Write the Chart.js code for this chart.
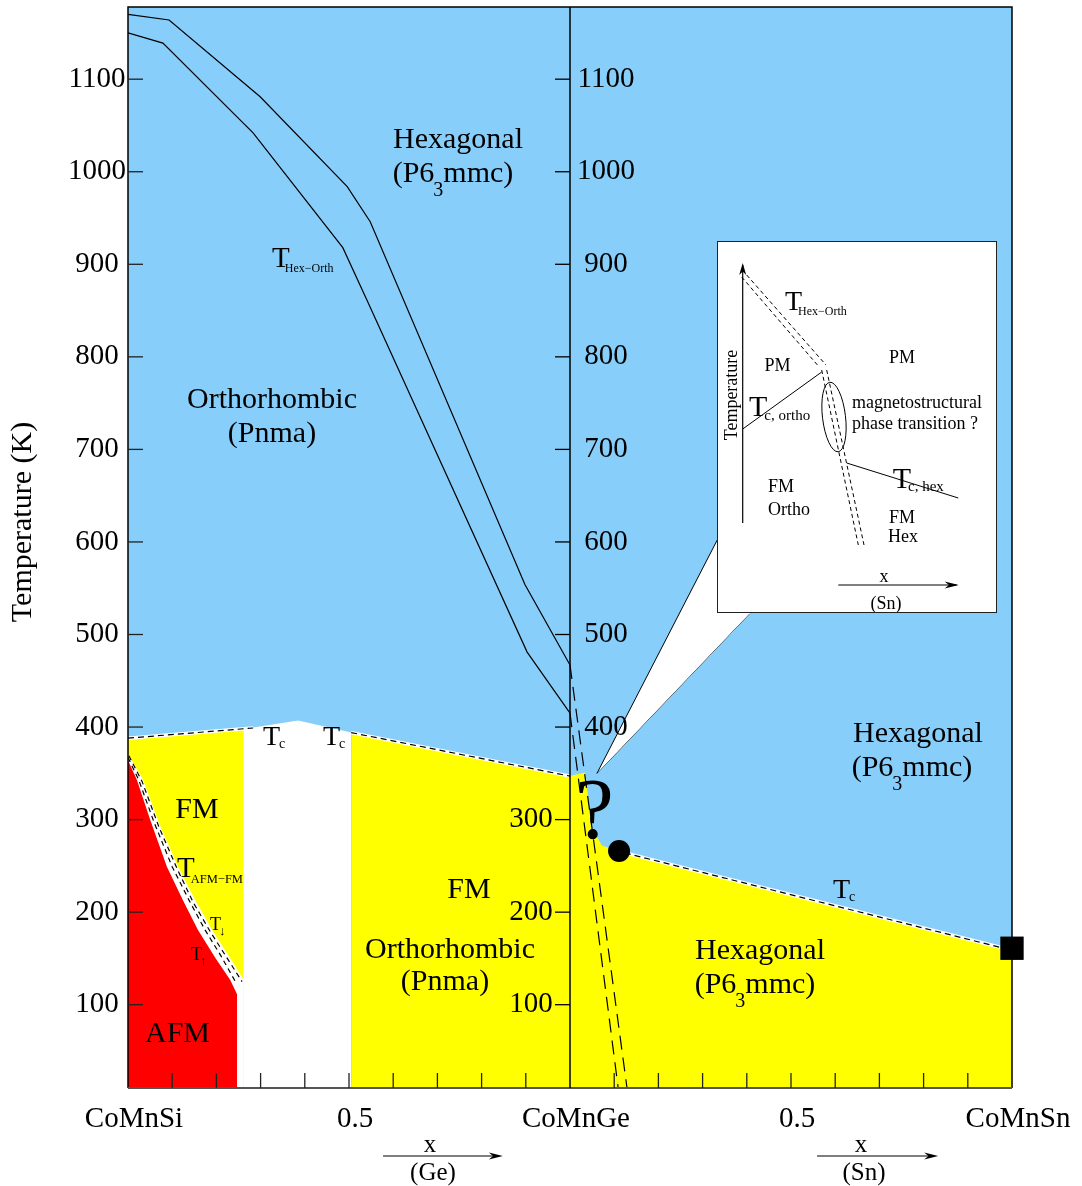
<!DOCTYPE html>
<html>
<head>
<meta charset="utf-8">
<title>CoMnSi – CoMnGe – CoMnSn phase diagram</title>
<script src="https://cdn.jsdelivr.net/npm/chart.js@4.4.1/dist/chart.umd.min.js"></script>
<style>
  html, body { margin: 0; padding: 0; background: #fff; }
  #wrap { position: relative; width: 1082px; height: 1186px; }
  #main { position: absolute; left: 0; top: 0; }
  #insetBox { position: absolute; left: 717px; top: 241px; width: 280px; height: 372px;
    box-sizing: border-box; border: 1px solid #222; background: #fff; }
  #inset { display: block; }
</style>
</head>
<body>
<div id="wrap">
  <canvas id="main" width="1082" height="1186"></canvas>
  <div id="insetBox"><canvas id="inset" width="278" height="370"></canvas></div>
</div>
<script>
// ---------- axes ----------
// composition runs 0 (CoMnSi) -> 1 (CoMnGe) -> 2 (CoMnSn)
const compositionTicks = [0, 0.5, 1, 1.5, 2];
const compositionLabels = ['CoMnSi', '0.5', 'CoMnGe', '0.5', 'CoMnSn'];
const compositionMinorTicks = [0.1, 0.2, 0.3, 0.4, 0.5, 0.6, 0.7, 0.8, 0.9,
                               1.1, 1.2, 1.3, 1.4, 1.5, 1.6, 1.7, 1.8, 1.9];
const temperatureTicks = [100, 200, 300, 400, 500, 600, 700, 800, 900, 1000, 1100];
const midAxisTicksRight = [400, 500, 600, 700, 800, 900, 1000, 1100];
const midAxisTicksLeft = [100, 200, 300];

// ---------- structural transition T_Hex-Orth (K) ----------
const hexOrthUpperX = [0, 0.093, 0.299, 0.496, 0.548, 0.898, 1.0];
const hexOrthUpperT = [1170, 1164, 1081, 984, 946, 554, 467];
const hexOrthLowerX = [0, 0.079, 0.283, 0.486, 0.541, 0.903, 1.0];
const hexOrthLowerT = [1150, 1139, 1042, 918, 861, 481, 415];
const hexOrthUpperExtX = [1.0, 1.129];
const hexOrthUpperExtT = [467, 10];
const hexOrthLowerExtX = [1.0, 1.109];
const hexOrthLowerExtT = [415, 10];

// ---------- Curie temperatures T_c (K) ----------
const tcSiX = [0, 0.283];
const tcSiT = [388, 399];
const tcGeX = [0.505, 1.0];
const tcGeT = [394, 347];
const tcSnX = [1.124, 1.973];
const tcSnT = [264, 162];

// ---------- phase regions (upper boundaries, K) ----------
const gapTopX = [0, 0.262, 0.385, 0.505];
const gapTopT = [388, 398, 407, 394];
const fmSiTopX = [0, 0.262];
const fmSiTopT = [388, 398];
const fmGeTopX = [0.505, 1.0];
const fmGeTopT = [394, 347];
const fmHexTopX = [1.0, 1.034, 1.050, 1.072, 1.111, 2.0];
const fmHexTopT = [347, 351, 291, 272, 266, 159];

// AFM-FM transition: hysteresis band between heating and cooling
const fmEdgeX = [0, 0.034, 0.072, 0.113, 0.152, 0.190, 0.226, 0.262];
const fmEdgeT = [371, 343, 294, 249, 213, 181, 154, 127];
const afmEdgeX = [0, 0.020, 0.050, 0.088, 0.124, 0.158, 0.197, 0.231, 0.247];
const afmEdgeT = [364, 343, 300, 249, 213, 181, 151, 127, 111];
const coolingX = [0.002, 0.032, 0.070, 0.111, 0.147, 0.186, 0.222, 0.258];
const coolingT = [369, 341, 292, 247, 211, 179, 152, 125];
const heatingX = [0, 0.025, 0.059, 0.100, 0.138, 0.174, 0.210, 0.244];
const heatingT = [367, 342, 297, 249, 213, 181, 153, 124];

// callout towards the magnetostructural sketch
const calloutUpperX = [1.061, 1.333, 1.42];
const calloutUpperT = [350, 602, 602];
const calloutLowerX = [1.061, 1.407];
const calloutLowerT = [350, 523];

// measured points
const tcCoMnGe = { x: 1.111, y: 266 };
const tcCoMnSn = { x: 2.0, y: 161 };

// ---------- sketch of the magnetostructural crossing (schematic units) ----------
const sketchTempAxisU = [25.7, 25.7];
const sketchTempAxisV = [90, 348];
const sketchHexOrthAU = [24.7, 101.3];
const sketchHexOrthAV = [336, 247];
const sketchHexOrthBU = [29.7, 109];
const sketchHexOrthBV = [338, 248];
const sketchHexOrthCU = [104.7, 141.3];
const sketchHexOrthCV = [243, 68];
const sketchHexOrthDU = [109.7, 147];
const sketchHexOrthDV = [243, 68];
const sketchTcOrthoU = [25.7, 104.7];
const sketchTcOrthoV = [184, 241];
const sketchTcHexU = [129.7, 241.3];
const sketchTcHexV = [150, 115];
const sketchXAxisU = [121.3, 239.7];
const sketchXAxisV = [28, 28];
const sketchCrossing = { x: 117, y: 196 };

// ---------- styling ----------
const SERIF = "'Liberation Serif', 'Times New Roman', serif";
const BLUE = '#87cefa', YELLOW = '#ffff00', RED = '#ff0000', WHITE = '#ffffff', INK = '#000000';

const zip = (xs, ys) => xs.map((x, i) => ({ x, y: ys[i] }));

function region(label, xs, ts, color, order) {
  return { label, data: zip(xs, ts), backgroundColor: color, borderWidth: 0,
           fill: 'start', pointRadius: 0, order };
}
function curve(label, xs, ts, color, width, dash, order) {
  return { label, data: zip(xs, ts), borderColor: color, borderWidth: width,
           borderDash: dash, fill: false, pointRadius: 0, order };
}

// text labels anchored in data coordinates (baseline)
const regionLabels = [
  { x: 0.7466, t: 1025.7, parts: [['Hexagonal']] },
  { x: 0.7353, t: 988.9, parts: [['(P6'], ['3', 'sub'], ['mmc)']] },
  { x: 0.3258, t: 744.7, parts: [['Orthorhombic']] },
  { x: 0.3258, t: 708.0, parts: [['(Pnma)']] },
  { x: 1.7873, t: 383.9, parts: [['Hexagonal']] },
  { x: 1.7738, t: 347.1, parts: [['(P6'], ['3', 'sub'], ['mmc)']] },
  { x: 0.1561, t: 301.7, parts: [['FM']] },
  { x: 0.1120, t: 59.7, parts: [['AFM']] },
  { x: 0.7715, t: 215.3, parts: [['FM']] },
  { x: 0.7285, t: 150.5, parts: [['Orthorhombic']] },
  { x: 0.7172, t: 115.9, parts: [['(Pnma)']] },
  { x: 1.4299, t: 149.4, parts: [['Hexagonal']] },
  { x: 1.4186, t: 112.6, parts: [['(P6'], ['3', 'sub'], ['mmc)']] }
];
const symbolLabels = [
  { x: 0.3258, t: 897.0, sub: 'Hex\u2212Orth', size: 29, subSize: 12, drop: 5, kern: -5 },
  { x: 0.1109, t: 238.0, sub: 'AFM\u2212FM', size: 29, subSize: 12.5, drop: 6, kern: -4 },
  { x: 0.3054, t: 380.6, sub: 'c', size: 28, subSize: 14, drop: 3, kern: -1 },
  { x: 0.4412, t: 380.6, sub: 'c', size: 28, subSize: 14, drop: 3, kern: -1 },
  { x: 1.5950, t: 215.3, sub: 'c', size: 28, subSize: 14, drop: 3, kern: -1 },
  { x: 0.1855, t: 180.7, sub: '\u2193', size: 18, subSize: 13, drop: 5, kern: -2 },
  { x: 0.1425, t: 148.3, sub: '\u2191', size: 18, subSize: 13, drop: 5, kern: -2 }
];
const questionMark = { x: 1.0554, t: 280.1, text: '?' };
const axisNotes = [
  { at: 0.690, from: 0.577, to: 0.848, element: '(Ge)' },
  { at: 1.665, from: 1.559, to: 1.833, element: '(Sn)' }
];

function drawParts(ctx, x, y, parts, align) {
  const widths = parts.map(p => { ctx.font = p.size + 'px ' + SERIF; return ctx.measureText(p.t).width + (p.dx || 0); });
  let cx = align === 'center' ? x - widths.reduce((a, b) => a + b, 0) / 2 : x;
  parts.forEach((p, i) => {
    ctx.font = p.size + 'px ' + SERIF;
    ctx.fillText(p.t, cx + (p.dx || 0), y + (p.dy || 0));
    cx += widths[i];
  });
}

function arrowBarbs(ctx, x, y, dx, dy, len, half) {
  const n = Math.hypot(dx, dy), ux = dx / n, uy = dy / n;
  ctx.beginPath();
  ctx.moveTo(x, y);
  ctx.lineTo(x - ux * len - uy * half, y - uy * len + ux * half);
  ctx.lineTo(x - ux * len * 0.7, y - uy * len * 0.7);
  ctx.lineTo(x - ux * len + uy * half, y - uy * len - ux * half);
  ctx.closePath();
  ctx.fill();
}

const decor = {
  id: 'phaseDiagramDecor',
  beforeDraw(chart) {
    const { ctx, chartArea: a } = chart;
    ctx.save();
    ctx.fillStyle = BLUE;
    ctx.fillRect(a.left, a.top, a.right - a.left, a.bottom - a.top);
    ctx.restore();
  },
  afterDatasetsDraw(chart) {
    const { ctx, chartArea: a } = chart;
    const X = v => chart.scales.x.getPixelForValue(v);
    const Y = v => chart.scales.y.getPixelForValue(v);
    ctx.save();
    ctx.fillStyle = INK;
    ctx.strokeStyle = INK;

    // frame
    ctx.lineWidth = 1.5;
    ctx.beginPath();
    ctx.moveTo(a.left, a.bottom); ctx.lineTo(a.left, a.top);
    ctx.lineTo(a.right, a.top); ctx.lineTo(a.right, a.bottom);
    ctx.stroke();
    ctx.strokeStyle = '#555';
    ctx.lineWidth = 2;
    ctx.beginPath(); ctx.moveTo(a.left, a.bottom); ctx.lineTo(a.right, a.bottom); ctx.stroke();

    // inward ticks
    ctx.strokeStyle = '#222';
    ctx.lineWidth = 1.3;
    temperatureTicks.forEach(t => {
      ctx.beginPath(); ctx.moveTo(a.left, Y(t)); ctx.lineTo(a.left + 15, Y(t)); ctx.stroke();
    });
    compositionMinorTicks.forEach(v => {
      ctx.beginPath(); ctx.moveTo(X(v), a.bottom); ctx.lineTo(X(v), a.bottom - 15); ctx.stroke();
    });

    // CoMnGe axis in the middle
    const xm = X(1);
    ctx.strokeStyle = INK;
    ctx.lineWidth = 1.5;
    ctx.beginPath(); ctx.moveTo(xm, a.top); ctx.lineTo(xm, a.bottom); ctx.stroke();
    ctx.lineWidth = 1.3;
    temperatureTicks.forEach(t => {
      ctx.beginPath(); ctx.moveTo(xm - 15, Y(t)); ctx.lineTo(xm, Y(t)); ctx.stroke();
    });
    ctx.font = '29px ' + SERIF;
    ctx.textAlign = 'center';
    ctx.textBaseline = 'middle';
    midAxisTicksRight.forEach(t => ctx.fillText(String(t), xm + 36, Y(t)));
    midAxisTicksLeft.forEach(t => ctx.fillText(String(t), xm - 39, Y(t)));

    // region names
    ctx.textAlign = 'left';
    ctx.textBaseline = 'alphabetic';
    regionLabels.forEach(l => {
      const parts = l.parts.map(([t, kind]) => kind === 'sub'
        ? { t, size: 20, dy: 14, dx: -1 } : { t, size: 30 });
      drawParts(ctx, X(l.x), Y(l.t), parts, 'center');
    });
    symbolLabels.forEach(l => {
      drawParts(ctx, X(l.x), Y(l.t), [
        { t: 'T', size: l.size },
        { t: l.sub, size: l.subSize, dy: l.drop, dx: l.kern }
      ], 'left');
    });
    ctx.font = '86px ' + SERIF;
    ctx.textAlign = 'center';
    ctx.fillText(questionMark.text, X(questionMark.x), Y(questionMark.t));

    // axis title
    ctx.save();
    ctx.translate(23, 522);
    ctx.rotate(-Math.PI / 2);
    ctx.font = '30px ' + SERIF;
    ctx.textAlign = 'center';
    ctx.textBaseline = 'middle';
    ctx.fillText('Temperature (K)', 0, 0);
    ctx.restore();

    // composition direction notes under the axis
    ctx.font = '25px ' + SERIF;
    ctx.textAlign = 'center';
    ctx.textBaseline = 'middle';
    ctx.lineWidth = 1.2;
    ctx.strokeStyle = INK;
    axisNotes.forEach(n => {
      ctx.fillText('x', X(n.at) - 3, a.bottom + 57);
      ctx.fillText(n.element, X(n.at), a.bottom + 85);
      const y = a.bottom + 68;
      ctx.beginPath(); ctx.moveTo(X(n.from), y); ctx.lineTo(X(n.to) - 4, y); ctx.stroke();
      arrowBarbs(ctx, X(n.to), y, 1, 0, 14, 3.5);
    });
    ctx.restore();
  }
};

const datasets = [
  { label: 'callout', data: zip(calloutUpperX, calloutUpperT), backgroundColor: WHITE,
    borderColor: INK, borderWidth: 1, fill: '+1', pointRadius: 0, order: 2 },
  { label: 'callout edge', data: zip(calloutLowerX, calloutLowerT), borderColor: INK,
    borderWidth: 1, fill: false, pointRadius: 0, order: 3 },
  { label: 'CoMnGe-rich point', data: [tcCoMnGe], showLine: false, pointRadius: 11,
    pointBackgroundColor: INK, pointBorderWidth: 0, order: 0 },
  { label: 'CoMnSn', data: [tcCoMnSn], showLine: false, pointStyle: 'rect', pointRadius: 16.5,
    pointBackgroundColor: INK, pointBorderWidth: 0, clip: false, order: 0 },
  region('white column', gapTopX, gapTopT, WHITE, 100),
  region('FM orthorhombic (Ge side)', fmGeTopX, fmGeTopT, YELLOW, 99),
  region('FM hexagonal', fmHexTopX, fmHexTopT, YELLOW, 98),
  region('FM orthorhombic (Si side)', fmSiTopX, fmSiTopT, YELLOW, 97),
  region('AFM-FM hysteresis', fmEdgeX, fmEdgeT, WHITE, 96),
  region('AFM', afmEdgeX, afmEdgeT, RED, 95),
  curve('T cooling', coolingX, coolingT, INK, 1.2, [5, 4], 80),
  curve('T heating', heatingX, heatingT, INK, 1.2, [5, 4], 80),
  curve('Tc Si halo', tcSiX, tcSiT, WHITE, 3.5, [], 75),
  curve('Tc Si', tcSiX, tcSiT, INK, 1.2, [6, 4], 74),
  curve('Tc Ge halo', tcGeX, tcGeT, WHITE, 3.5, [], 75),
  curve('Tc Ge', tcGeX, tcGeT, INK, 1.2, [6, 4], 74),
  curve('Tc Sn halo', tcSnX, tcSnT, WHITE, 3.5, [], 75),
  curve('Tc Sn', tcSnX, tcSnT, INK, 1.2, [6, 4], 74),
  curve('T Hex-Orth upper', hexOrthUpperX, hexOrthUpperT, INK, 1.2, [], 60),
  curve('T Hex-Orth lower', hexOrthLowerX, hexOrthLowerT, INK, 1.2, [], 60),
  curve('T Hex-Orth upper (Sn)', hexOrthUpperExtX, hexOrthUpperExtT, INK, 1.2, [14, 8], 60),
  curve('T Hex-Orth lower (Sn)', hexOrthLowerExtX, hexOrthLowerExtT, INK, 1.2, [14, 8], 60)
];

new Chart(document.getElementById('main'), {
  type: 'line',
  data: { datasets },
  options: {
    responsive: false,
    animation: false,
    events: [],
    layout: { autoPadding: false, padding: { top: 7, right: 70, left: 0, bottom: 0 } },
    elements: { line: { tension: 0 } },
    plugins: { legend: { display: false }, tooltip: { enabled: false } },
    scales: {
      x: {
        type: 'linear', min: 0, max: 2,
        grid: { display: false, drawTicks: false }, border: { display: false },
        afterBuildTicks: s => { s.ticks = compositionTicks.map(v => ({ value: v })); },
        afterFit: s => { s.height = 98; s.paddingLeft = 0; s.paddingRight = 0; },
        ticks: {
          autoSkip: false, maxRotation: 0, padding: 14, labelOffset: 6, color: INK,
          font: { family: SERIF, size: 29 },
          callback: (v, i) => compositionLabels[i]
        }
      },
      y: {
        type: 'linear', min: 10, max: 1178,
        grid: { display: false, drawTicks: false }, border: { display: false },
        afterBuildTicks: s => { s.ticks = temperatureTicks.map(v => ({ value: v })); },
        afterFit: s => { s.width = 128; s.paddingTop = 0; s.paddingBottom = 0; },
        ticks: {
          crossAlign: 'center', padding: 2, color: INK,
          font: { family: SERIF, size: 29 },
          callback: v => String(v)
        }
      }
    }
  },
  plugins: [decor]
});

// ---------- sketch ----------
function crossingMarker() {
  const c = document.createElement('canvas');
  c.width = 34; c.height = 80;
  const g = c.getContext('2d');
  g.strokeStyle = INK; g.lineWidth = 1;
  g.beginPath(); g.ellipse(17, 40, 11.5, 35, -0.12, 0, Math.PI * 2); g.stroke();
  return c;
}

const sketchTexts = [
  { u: 60.5, v: 242, text: 'PM', align: 'center' },
  { u: 185, v: 250, text: 'PM', align: 'center' },
  { u: 135, v: 205, text: 'magnetostructural', align: 'left' },
  { u: 135, v: 184, text: 'phase transition ?', align: 'left' },
  { u: 51, v: 121, text: 'FM', align: 'left' },
  { u: 51, v: 98, text: 'Ortho', align: 'left' },
  { u: 172, v: 90, text: 'FM', align: 'left' },
  { u: 171, v: 71, text: 'Hex', align: 'left' },
  { u: 167, v: 31, text: 'x', align: 'center' },
  { u: 169, v: 4, text: '(Sn)', align: 'center' }
];
const sketchSymbols = [
  { u: 68, v: 303, sub: 'Hex\u2212Orth', size: 28, subSize: 12, drop: 5, kern: -4 },
  { u: 32, v: 197, sub: 'c, ortho', size: 30, subSize: 15, drop: 4, kern: -3 },
  { u: 175.7, v: 125, sub: 'c, hex', size: 30, subSize: 15, drop: 3, kern: -3 }
];

const sketchDecor = {
  id: 'sketchDecor',
  afterDatasetsDraw(chart) {
    const { ctx } = chart;
    const X = v => chart.scales.x.getPixelForValue(v);
    const Y = v => chart.scales.y.getPixelForValue(v);
    ctx.save();
    ctx.fillStyle = INK;
    arrowBarbs(ctx, X(sketchTempAxisU[1]), Y(sketchTempAxisV[1]) - 2, 0, -1, 12, 3.5);
    arrowBarbs(ctx, X(sketchXAxisU[1]) + 2, Y(sketchXAxisV[1]), 1, 0, 14, 3.5);
    ctx.textBaseline = 'alphabetic';
    sketchTexts.forEach(s => {
      ctx.font = '18px ' + SERIF;
      ctx.textAlign = s.align;
      ctx.fillText(s.text, X(s.u), Y(s.v));
    });
    ctx.textAlign = 'left';
    sketchSymbols.forEach(s => {
      drawParts(ctx, X(s.u), Y(s.v), [
        { t: 'T', size: s.size },
        { t: s.sub, size: s.subSize, dy: s.drop, dx: s.kern }
      ], 'left');
    });
    ctx.translate(X(15.3), Y(218));
    ctx.rotate(-Math.PI / 2);
    ctx.font = '18px ' + SERIF;
    ctx.textAlign = 'center';
    ctx.textBaseline = 'middle';
    ctx.fillText('Temperature', 0, 0);
    ctx.restore();
  }
};

new Chart(document.getElementById('inset'), {
  type: 'line',
  data: {
    datasets: [
      curve('temperature axis', sketchTempAxisU, sketchTempAxisV, INK, 1.2, [], 1),
      curve('T Hex-Orth a', sketchHexOrthAU, sketchHexOrthAV, INK, 1, [4, 3], 1),
      curve('T Hex-Orth b', sketchHexOrthBU, sketchHexOrthBV, INK, 1, [4, 3], 1),
      curve('T Hex-Orth c', sketchHexOrthCU, sketchHexOrthCV, INK, 1, [4, 3], 1),
      curve('T Hex-Orth d', sketchHexOrthDU, sketchHexOrthDV, INK, 1, [4, 3], 1),
      curve('Tc ortho', sketchTcOrthoU, sketchTcOrthoV, INK, 1, [], 1),
      curve('Tc hex', sketchTcHexU, sketchTcHexV, INK, 1, [], 1),
      curve('x axis', sketchXAxisU, sketchXAxisV, INK, 1.2, [], 1),
      { label: 'crossing', data: [sketchCrossing], showLine: false, pointStyle: crossingMarker(),
        pointRadius: 3, order: 0 }
    ]
  },
  options: {
    responsive: false,
    animation: false,
    events: [],
    layout: { autoPadding: false, padding: 0 },
    elements: { line: { tension: 0 } },
    plugins: { legend: { display: false }, tooltip: { enabled: false } },
    scales: {
      x: { type: 'linear', min: 1, max: 279, display: false },
      y: { type: 'linear', min: 1, max: 371, display: false }
    }
  },
  plugins: [sketchDecor]
});
</script>
</body>
</html>
